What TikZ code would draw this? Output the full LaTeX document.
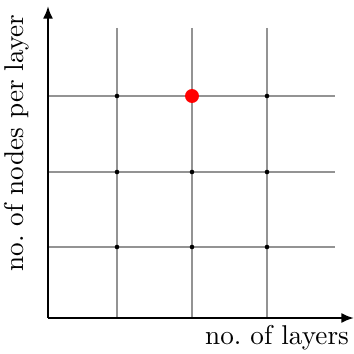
\documentclass[tikz,border=0pt]{standalone}
\usetikzlibrary{arrows.meta}
\begin{document}
\begin{tikzpicture}[x=0.3937pt,y=-0.3937pt,
  gridline/.style={draw=gray!85,line width=0.4pt},
  axisline/.style={draw=black,line width=0.9pt,-{Latex[length=5pt,width=4pt]}},
  smalldot/.style={circle,fill=black,inner sep=0pt,minimum size=1.8pt},
  bigdot/.style={circle,fill=red,inner sep=0pt,minimum size=5.5pt},
  lbl/.style={font=\fontsize{10.7}{13}\selectfont,inner sep=0pt}]
\useasboundingbox (0,0) rectangle (354,354);
\foreach \x in {117,192,267} \draw[gridline] (\x,28) -- (\x,318);
\foreach \y in {96,172,247} \draw[gridline] (48,\y) -- (335,\y);
\coordinate (o) at (48,318);
\coordinate (xe) at (354,318);
\coordinate (ye) at (48,6);
\draw[axisline] (o) -- (xe);
\draw[axisline] (o) -- (ye);
\foreach \x/\i in {117/1,192/2,267/3}
  \foreach \y/\j in {96/3,172/2,247/1}
    \node[smalldot] (d\i\j) at (\x,\y) {};
\node[bigdot] (best) at (192,96) {};
\node[lbl] (xl) at (277,338) {no.\ of layers};
\node[lbl,rotate=90] (yl) at (17,143) {no.\ of nodes per layer};
\end{tikzpicture}
\end{document}
